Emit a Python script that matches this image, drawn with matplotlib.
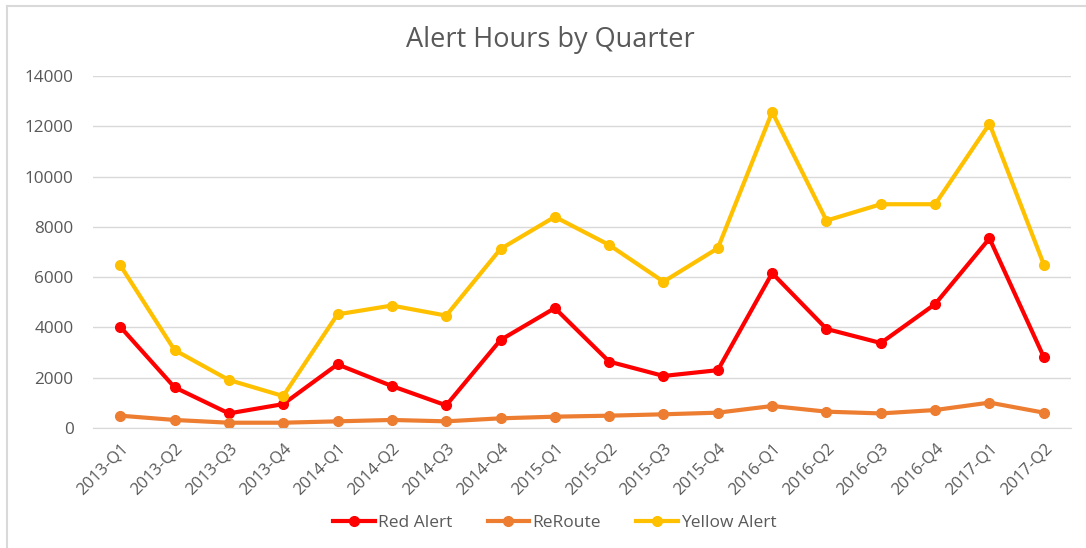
import matplotlib.pyplot as plt
from matplotlib.lines import Line2D

# data
quarters = ['2013-Q1', '2013-Q2', '2013-Q3', '2013-Q4',
            '2014-Q1', '2014-Q2', '2014-Q3', '2014-Q4',
            '2015-Q1', '2015-Q2', '2015-Q3', '2015-Q4',
            '2016-Q1', '2016-Q2', '2016-Q3', '2016-Q4',
            '2017-Q1', '2017-Q2']
red_alert = [4030, 1620, 580, 950, 2530, 1670, 900, 3500,
             4770, 2640, 2070, 2300, 6160, 3940, 3380, 4930,
             7540, 2820]
reroute = [490, 320, 210, 210, 265, 320, 265, 385,
           450, 490, 545, 610, 875, 650, 580, 715,
           1010, 610]
yellow_alert = [6480, 3100, 1910, 1270, 4520, 4870, 4470, 7120,
                8400, 7280, 5820, 7150, 12570, 8250, 8900, 8900,
                12100, 6500]
y_ticks = [0, 2000, 4000, 6000, 8000, 10000, 12000, 14000]

plt.rcParams['font.family'] = ['Open Sans', 'DejaVu Sans']
txt = '#595959'

fig = plt.figure(figsize=(10.86, 5.48), dpi=100)
ax = fig.add_axes([93/1086, 1-428/548, (1071-93)/1086, (428-76)/548])

x = list(range(len(quarters)))
series = [(red_alert, '#FF0000', 'Red Alert'),
          (reroute, '#ED7D31', 'ReRoute'),
          (yellow_alert, '#FFC000', 'Yellow Alert')]
handles = []
for vals, col, name in series:
    ax.plot(x, vals, color=col, lw=3, marker='o', ms=7, solid_joinstyle='round')
    handles.append(Line2D([], [], color=col, lw=3, marker='o', ms=7, label=name))

ax.set_xlim(-0.5, len(quarters)-0.5)
ax.set_ylim(0, 14000)
ax.set_yticks(y_ticks)
ax.set_yticklabels([str(v) for v in y_ticks], color=txt, fontsize=12.3)
ax.set_xticks(x)
ax.set_xticklabels(quarters, rotation=45, ha='right', rotation_mode='anchor',
                   color=txt, fontsize=12)
ax.tick_params(length=0)
ax.tick_params(axis='x', pad=9)
ax.tick_params(axis='y', pad=14)
ax.grid(axis='y', color='#D9D9D9', lw=1)
ax.set_axisbelow(True)
for s in ['top', 'right', 'left']:
    ax.spines[s].set_visible(False)
ax.spines['bottom'].set_color('#D9D9D9')

fig.text(550/1086, 1-40/548, 'Alert Hours by Quarter', ha='center', va='center',
         fontsize=19.5, color=txt)

leg = fig.legend(handles=handles, loc='center', bbox_to_anchor=(555/1086, 1-523/548),
                 ncol=3, frameon=False, fontsize=12.5, handlelength=2.4,
                 columnspacing=2.0, handletextpad=0.2)
for t in leg.get_texts():
    t.set_color(txt)

# light frame of the chart area (left and top visible)
fig.add_artist(Line2D([7/1086, 7/1086], [0, 1-6/548], color='#D9D9D9', lw=1.5,
                      transform=fig.transFigure))
fig.add_artist(Line2D([7/1086, 1], [1-6/548, 1-6/548], color='#D9D9D9', lw=1.5,
                      transform=fig.transFigure))

fig.savefig('out.png', dpi=100)
